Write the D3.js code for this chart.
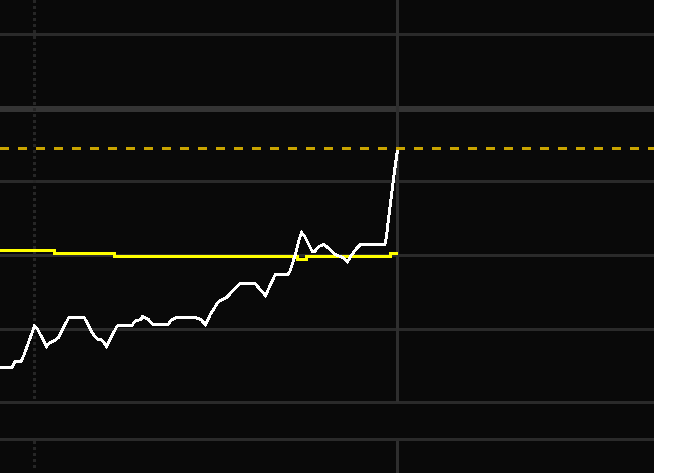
<!DOCTYPE html>
<html>
<head>
<meta charset="utf-8">
<script src="https://cdn.jsdelivr.net/npm/d3@7"></script>
<style>
  html, body { margin: 0; padding: 0; background: #ffffff; }
  svg { display: block; }
</style>
</head>
<body>
<div id="chart"></div>
<script>
// ---- data ----
const priceX = [0,4,5,7,8,11.5,12.5,15.5,16.5,18.5,19.5,23,28,31,32.67,34,35.5,39,44,45,47,47.5,49.5,51,56,57.17,59,65,67,68.5,70,72.5,73.67,75.5,80,85,88.5,91.67,96,96.67,97.67,98.67,99.67,100.5,101.67,102.67,104,105,106.33,108,109,110,111,112.33,113.67,114.67,115.83,116.83,118,119,120,128.33,128.83,129.5,130.5,131.5,132.5];
const priceY = [44.79,44.79,45.60,45.60,46.48,50.42,50.01,47.64,48.11,48.52,48.86,51.64,51.64,49.33,48.59,48.52,47.64,50.42,50.49,51.10,51.30,51.71,51.30,50.62,50.62,51.24,51.58,51.58,51.30,50.56,51.91,53.54,53.95,54.29,56.19,56.19,54.56,57.35,57.41,57.89,59.11,60.47,62.10,63.12,62.51,61.69,60.60,60.60,61.22,61.49,61.15,60.81,60.40,59.99,59.86,59.59,59.11,59.86,60.47,61.01,61.42,61.49,62.57,64.95,68.21,71.47,74.32];
const levelX = [0, 18, 38, 99, 102, 130, 132.5];
const levelY = [60.67, 60.26, 59.86, 59.45, 59.86, 60.26, 60.26];
const targetLevel = 74.52;
const gridValues = [90, 80, 70, 60, 50, 40];
const majorGridValue = 80;
const sessionMarkers = [11.5];   // dotted vertical
const nowMarkers = [132.5];      // solid vertical

// ---- layout ----
const W = 654, H = 473;
const mainBottom = 402;      // main panel bottom (px)
const lowerTop = 441;        // lower panel top (px)
const lowerSep = 439.5;      // lower panel top border

const x = d3.scaleLinear().domain([0, 218]).range([0, W]);
const y = d3.scaleLinear().domain([50, 90]).range([329.1, 34.5]);

const svg = d3.select("#chart").append("svg")
  .attr("width", W).attr("height", H);

svg.append("rect").attr("width", W).attr("height", H).attr("fill", "#090909");

// horizontal grid
svg.append("g").selectAll("line").data(gridValues).join("line")
  .attr("x1", 0).attr("x2", W)
  .attr("y1", d => Math.floor(y(d)) + 0.5)
  .attr("y2", d => Math.floor(y(d)) + 0.5)
  .attr("stroke", d => d === majorGridValue ? "#343434" : "#2a2a2a")
  .attr("stroke-width", d => d === majorGridValue ? 6 : 3)
  .attr("shape-rendering", "crispEdges");

svg.append("line")
  .attr("x1", 0).attr("x2", W)
  .attr("y1", lowerSep).attr("y2", lowerSep)
  .attr("stroke", "#2a2a2a").attr("stroke-width", 3)
  .attr("shape-rendering", "crispEdges");

// vertical markers (drawn in main panel and lower panel)
const segs = [[0, mainBottom], [lowerTop, H]];
sessionMarkers.forEach(m => {
  segs.forEach(([a, b]) => {
    svg.append("line")
      .attr("x1", x(m)).attr("x2", x(m))
      .attr("y1", a).attr("y2", b - 2)
      .attr("stroke", "#262626").attr("stroke-width", 3)
      .attr("stroke-dasharray", "3,3")
      .attr("shape-rendering", "crispEdges");
  });
});
nowMarkers.forEach(m => {
  segs.forEach(([a, b]) => {
    svg.append("line")
      .attr("x1", x(m)).attr("x2", x(m))
      .attr("y1", a).attr("y2", b)
      .attr("stroke", "#2e2e2e").attr("stroke-width", 3)
      .attr("shape-rendering", "crispEdges");
  });
});

// target dashed level
svg.append("line")
  .attr("x1", 0).attr("x2", W)
  .attr("y1", Math.floor(y(targetLevel)) + 0.5)
  .attr("y2", Math.floor(y(targetLevel)) + 0.5)
  .attr("stroke", "#c9a400").attr("stroke-width", 3)
  .attr("stroke-dasharray", "9,9")
  .attr("shape-rendering", "crispEdges");

// yellow step line
const stepLine = d3.line()
  .x(d => x(d[0])).y(d => y(d[1]))
  .curve(d3.curveStepAfter);
svg.append("path")
  .datum(levelX.map((v, i) => [v, levelY[i]]))
  .attr("d", stepLine)
  .attr("fill", "none").attr("stroke", "#ffff00").attr("stroke-width", 3)
  .attr("shape-rendering", "crispEdges");

// white price line
const priceLine = d3.line().x(d => x(d[0])).y(d => y(d[1]));
svg.append("path")
  .datum(priceX.map((v, i) => [v, priceY[i]]))
  .attr("d", priceLine)
  .attr("fill", "none").attr("stroke", "#ffffff").attr("stroke-width", 3)
  .attr("stroke-linejoin", "miter")
  .attr("shape-rendering", "crispEdges");
</script>
</body>
</html>
